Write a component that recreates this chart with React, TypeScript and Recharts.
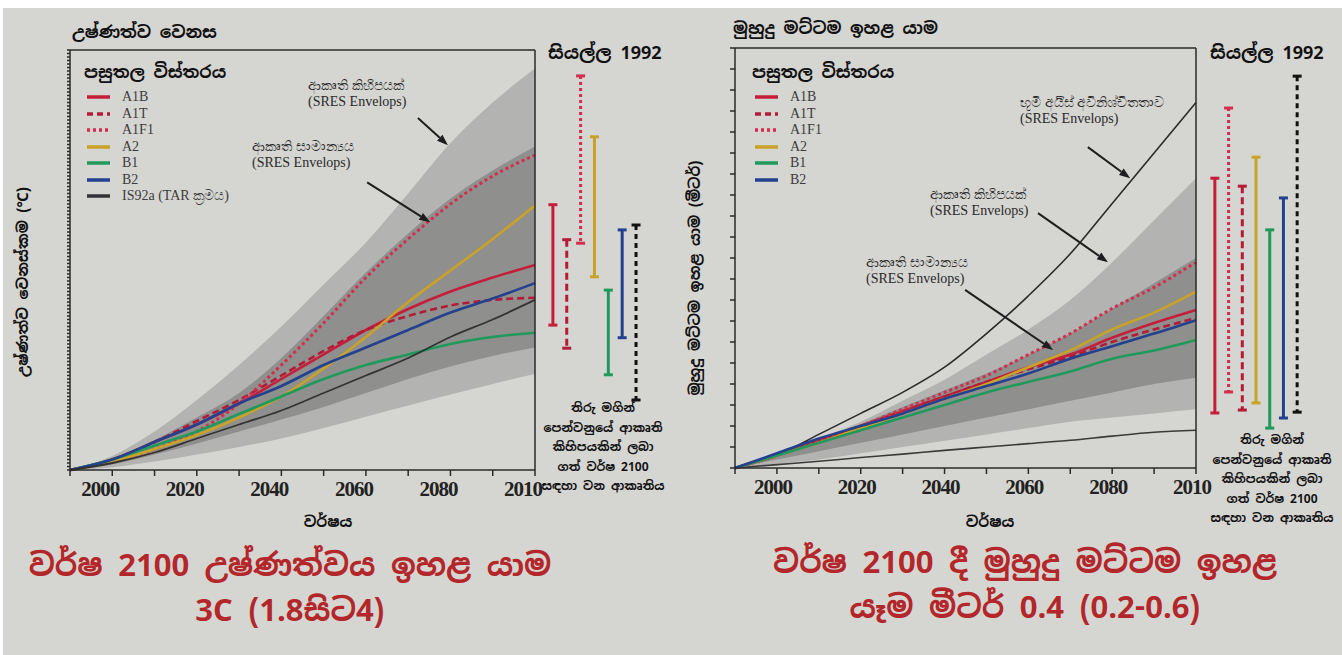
import React from "react";
import { ComposedChart, Area, Line, XAxis, YAxis, ReferenceLine, BarChart, Bar } from "recharts";

// shared x axis
const years = [1990, 2000, 2010, 2020, 2030, 2040, 2050, 2060, 2070, 2080, 2090, 2100];
const tickYears = [1990, 2000, 2010, 2020, 2030, 2040, 2050, 2060, 2070, 2080, 2090, 2100];
const labeledYears = [2000, 2020, 2040, 2060, 2080, 2100];
const yearLabels = ["2000", "2020", "2040", "2060", "2080", "2010"];

// temperature change (°C)
const tempOuterLo = [0, 0.04, 0.12, 0.22, 0.33, 0.45, 0.6, 0.76, 0.92, 1.08, 1.23, 1.37];
const tempOuterHi = [0, 0.2, 0.55, 1.0, 1.5, 2.05, 2.65, 3.25, 3.95, 4.67, 5.25, 5.74];
const tempInnerLo = [0, 0.08, 0.22, 0.38, 0.55, 0.72, 0.9, 1.1, 1.3, 1.48, 1.63, 1.75];
const tempInnerHi = [0, 0.17, 0.43, 0.75, 1.1, 1.6, 2.2, 2.82, 3.38, 3.88, 4.28, 4.62];
const tempA1B = [0, 0.15, 0.4, 0.65, 0.95, 1.3, 1.65, 2.0, 2.3, 2.55, 2.75, 2.93];
const tempA1T = [0, 0.15, 0.4, 0.7, 1.0, 1.35, 1.7, 2.0, 2.2, 2.35, 2.43, 2.46];
const tempA1F1 = [0, 0.12, 0.3, 0.55, 0.95, 1.5, 2.1, 2.75, 3.3, 3.8, 4.2, 4.5];
const tempA2 = [0, 0.12, 0.3, 0.5, 0.75, 1.05, 1.45, 1.9, 2.4, 2.85, 3.3, 3.78];
const tempB1 = [0, 0.15, 0.35, 0.55, 0.8, 1.05, 1.3, 1.5, 1.65, 1.8, 1.9, 1.96];
const tempB2 = [0, 0.15, 0.4, 0.65, 0.95, 1.2, 1.5, 1.75, 2.0, 2.25, 2.45, 2.67];
const tempIS92a = [0, 0.1, 0.25, 0.45, 0.65, 0.85, 1.1, 1.35, 1.6, 1.9, 2.15, 2.43];

const tempBarNames = ["A1B", "A1T", "A1F1", "A2", "B1", "B2", "IS92a"];
const tempBarLow = [2.07, 1.74, 3.24, 2.76, 1.36, 1.89, 1.0];
const tempBarHigh = [3.79, 3.29, 5.63, 4.76, 2.57, 3.43, 3.5];

// sea level rise (m)
const seaOuterLo = [0, 0.01, 0.02, 0.035, 0.05, 0.065, 0.08, 0.095, 0.11, 0.12, 0.13, 0.14];
const seaOuterHi = [0, 0.03, 0.07, 0.11, 0.16, 0.21, 0.27, 0.33, 0.4, 0.49, 0.59, 0.69];
const seaInnerLo = [0, 0.02, 0.04, 0.06, 0.08, 0.1, 0.12, 0.14, 0.16, 0.18, 0.2, 0.215];
const seaInnerHi = [0, 0.035, 0.07, 0.105, 0.145, 0.185, 0.225, 0.27, 0.32, 0.38, 0.44, 0.5];
const seaIceHigh = [0, 0.03, 0.08, 0.13, 0.18, 0.24, 0.32, 0.41, 0.51, 0.63, 0.75, 0.87];
const seaIceLow = [0, 0.008, 0.016, 0.025, 0.033, 0.042, 0.05, 0.058, 0.066, 0.076, 0.085, 0.09];
const seaA1B = [0, 0.03, 0.065, 0.1, 0.135, 0.17, 0.205, 0.24, 0.27, 0.31, 0.345, 0.376];
const seaA1T = [0, 0.03, 0.065, 0.1, 0.135, 0.17, 0.205, 0.235, 0.265, 0.3, 0.33, 0.357];
const seaA1F1 = [0, 0.03, 0.065, 0.1, 0.14, 0.18, 0.22, 0.27, 0.32, 0.38, 0.43, 0.49];
const seaA2 = [0, 0.03, 0.06, 0.095, 0.13, 0.165, 0.2, 0.24, 0.28, 0.33, 0.37, 0.42];
const seaB1 = [0, 0.03, 0.06, 0.09, 0.12, 0.15, 0.18, 0.205, 0.23, 0.26, 0.28, 0.305];
const seaB2 = [0, 0.035, 0.07, 0.1, 0.13, 0.165, 0.195, 0.225, 0.26, 0.29, 0.32, 0.352];

const seaBarNames = ["A1B", "A1F1", "A1T", "A2", "B1", "B2", "IS92a"];
const seaBarLow = [0.131, 0.181, 0.138, 0.155, 0.095, 0.119, 0.133];
const seaBarHigh = [0.69, 0.857, 0.671, 0.74, 0.567, 0.643, 0.933];

const STYLE: Record<string, { color: string; dash?: string; width: number }> = {
  A1B: { color: "#c41e3a", width: 2.6 },
  A1T: { color: "#b31b37", dash: "7 4", width: 2.6 },
  A1F1: { color: "#d42d4e", dash: "3 3", width: 3 },
  A2: { color: "#c9a227", width: 2.6 },
  B1: { color: "#1f9a5c", width: 2.6 },
  B2: { color: "#23418f", width: 2.6 },
  IS92a: { color: "#333333", width: 1.8 },
};

const tempRows = years.map((year, i) => ({
  year,
  outer: [tempOuterLo[i], tempOuterHi[i]],
  inner: [tempInnerLo[i], tempInnerHi[i]],
  A1B: tempA1B[i],
  A1T: tempA1T[i],
  A1F1: tempA1F1[i],
  A2: tempA2[i],
  B1: tempB1[i],
  B2: tempB2[i],
  IS92a: tempIS92a[i],
}));

const seaRows = years.map((year, i) => ({
  year,
  outer: [seaOuterLo[i], seaOuterHi[i]],
  inner: [seaInnerLo[i], seaInnerHi[i]],
  iceHigh: seaIceHigh[i],
  iceLow: seaIceLow[i],
  A1B: seaA1B[i],
  A1T: seaA1T[i],
  A1F1: seaA1F1[i],
  A2: seaA2[i],
  B1: seaB1[i],
  B2: seaB2[i],
}));

const tempBars = tempBarNames.map((name, i) => ({ name, range: [tempBarLow[i], tempBarHigh[i]] }));
const seaBars = seaBarNames.map((name, i) => ({ name, range: [seaBarLow[i], seaBarHigh[i]] }));

const steps = (max: number, step: number) => {
  const out: number[] = [];
  for (let i = 0; i <= Math.round(max / step); i++) out.push(+(i * step).toFixed(3));
  return out;
};

const SIN = "'Noto Sans Sinhala', 'Iskoola Pota', 'Noto Sans', sans-serif";
const SERIF = "'Liberation Serif', 'DejaVu Serif', serif";
const BG = "#d5d5d1";

const arrowShape = (p: any) => {
  const { x1, y1, x2, y2 } = p;
  const a = Math.atan2(y2 - y1, x2 - x1);
  const bx = x2 - 11 * Math.cos(a);
  const by = y2 - 11 * Math.sin(a);
  const s = Math.sin(a) * 4;
  const c = Math.cos(a) * 4;
  return (
    <g>
      <line x1={x1} y1={y1} x2={bx} y2={by} stroke="#1e1e1e" strokeWidth={2} />
      <polygon points={`${x2},${y2} ${bx - s},${by + c} ${bx + s},${by - c}`} fill="#1e1e1e" />
    </g>
  );
};

const RangeMark = (p: any) => {
  const { x, y, width, height, payload } = p;
  const s = STYLE[payload.name];
  const cx = x + width / 2;
  const col = payload.name === "IS92a" ? "#111" : s.color;
  const dash = payload.name === "IS92a" ? "5 4" : s.dash;
  return (
    <g>
      <line x1={cx} x2={cx} y1={y} y2={y + height} stroke={col} strokeWidth={3} strokeDasharray={dash} />
      <line x1={cx - 4.5} x2={cx + 4.5} y1={y} y2={y} stroke={col} strokeWidth={3} />
      <line x1={cx - 4.5} x2={cx + 4.5} y1={y + height} y2={y + height} stroke={col} strokeWidth={3} />
    </g>
  );
};

const yearTick = (dx: number) => (props: any) => {
  const { x, y, payload } = props;
  const idx = labeledYears.indexOf(payload.value);
  if (idx < 0) return <g />;
  return (
    <text x={x + dx} y={y + 18} textAnchor="middle" fontFamily={SERIF} fontSize={21} fontWeight="bold" fill="#222" letterSpacing={-1}>
      {yearLabels[idx]}
    </text>
  );
};

type PanelProps = {
  data: any[];
  left: number;
  width: number;
  height: number;
  margin: { top: number; right: number; bottom: number; left: number };
  yMax: number;
  leftTicks: number[];
  rightTicks: number[];
  leftTickSize: number;
  rightTickSize: number;
  series: string[];
  iceLines?: boolean;
  arrows: { from: [number, number]; to: [number, number] }[];
  labelDx: number;
};

function Panel(p: PanelProps) {
  return (
    <div style={{ position: "absolute", left: p.left, top: 0 }}>
      <ComposedChart width={p.width} height={p.height} data={p.data} margin={p.margin}>
        <XAxis
          dataKey="year"
          type="number"
          domain={[1990, 2100]}
          ticks={tickYears}
          interval={0}
          height={30}
          tickSize={6}
          stroke="#2a2a2a"
          strokeWidth={1.5}
          tick={yearTick(p.labelDx)}
        />
        <XAxis
          xAxisId="top"
          orientation="top"
          type="number"
          domain={[1990, 2100]}
          ticks={tickYears}
          interval={0}
          height={8}
          tickSize={5}
          stroke="#2a2a2a"
          strokeWidth={1.5}
          tickFormatter={() => ""}
        />
        <YAxis
          type="number"
          domain={[0, p.yMax]}
          ticks={p.leftTicks}
          interval={0}
          width={8}
          tickSize={p.leftTickSize}
          stroke="#2a2a2a"
          strokeWidth={1.5}
          tickFormatter={() => ""}
        />
        <YAxis
          yAxisId="r"
          orientation="right"
          type="number"
          domain={[0, p.yMax]}
          ticks={p.rightTicks}
          interval={0}
          width={8}
          tickSize={p.rightTickSize}
          stroke="#2a2a2a"
          strokeWidth={1.5}
          tickFormatter={() => ""}
        />
        <Area dataKey="outer" type="monotone" stroke="none" fill="#b3b3b1" fillOpacity={1} isAnimationActive={false} />
        <Area dataKey="inner" type="monotone" stroke="none" fill="#8f8f8d" fillOpacity={1} isAnimationActive={false} />
        {p.iceLines && (
          <Line dataKey="iceHigh" type="monotone" stroke="#2b2b2b" strokeWidth={1.6} dot={false} isAnimationActive={false} />
        )}
        {p.iceLines && (
          <Line dataKey="iceLow" type="monotone" stroke="#3a3a3a" strokeWidth={1.6} dot={false} isAnimationActive={false} />
        )}
        {p.series.map((k) => (
          <Line
            key={k}
            dataKey={k}
            type="monotone"
            stroke={STYLE[k].color}
            strokeWidth={STYLE[k].width}
            strokeDasharray={STYLE[k].dash}
            dot={false}
            isAnimationActive={false}
          />
        ))}
        {p.arrows.map((a, i) => (
          <ReferenceLine
            key={i}
            segment={[
              { x: a.from[0], y: a.from[1] },
              { x: a.to[0], y: a.to[1] },
            ]}
            shape={arrowShape}
          />
        ))}
      </ComposedChart>
    </div>
  );
}

function RangeBars({ data, left, top, width, height, yMax }: any) {
  return (
    <div style={{ position: "absolute", left, top: 0 }}>
      <BarChart width={width} height={height} data={data} margin={{ top, right: 0, bottom: 0, left: 0 }}>
        <XAxis dataKey="name" hide />
        <YAxis type="number" domain={[0, yMax]} hide />
        <Bar dataKey="range" shape={RangeMark} isAnimationActive={false} />
      </BarChart>
    </div>
  );
}

const T = (props: { x: number; y: number; children: any; style?: React.CSSProperties; center?: boolean }) => (
  <div
    style={{
      position: "absolute",
      left: props.x,
      top: props.y,
      transform: props.center ? "translate(-50%, -50%)" : "translateY(-50%)",
      whiteSpace: "nowrap",
      ...props.style,
    }}
  >
    {props.children}
  </div>
);

function Legend({ x, y, names }: { x: number; y: number; names: string[] }) {
  const labels: Record<string, string> = { IS92a: "IS92a (TAR ක්‍රමය)" };
  return (
    <>
      <T x={x} y={y} style={{ fontFamily: SIN, fontSize: 17, fontWeight: 700, color: "#111" }}>
        පසුතල විස්තරය
      </T>
      {names.map((n, i) => (
        <div key={n} style={{ position: "absolute", left: x + 2, top: y + 25 + i * 16.5 - 8, height: 16, display: "flex", alignItems: "center" }}>
          <svg width={26} height={10}>
            <line x1={1} x2={24} y1={5} y2={5} stroke={STYLE[n].color} strokeWidth={3.5} strokeDasharray={STYLE[n].dash === "7 4" ? "6 4" : STYLE[n].dash} />
          </svg>
          <span style={{ marginLeft: 10, fontFamily: SERIF, fontSize: 14, color: "#3c3c3c", whiteSpace: "nowrap" }}>{labels[n] || n}</span>
        </div>
      ))}
    </>
  );
}

const annot: React.CSSProperties = { fontFamily: SERIF, fontSize: 14, color: "#2a2a2a", lineHeight: "16px", whiteSpace: "nowrap" };
const note: React.CSSProperties = {
  fontFamily: SIN,
  fontSize: 12,
  fontWeight: 700,
  color: "#111",
  lineHeight: "19.5px",
  textAlign: "center",
  transform: "translateX(-50%)",
  whiteSpace: "nowrap",
};
const big: React.CSSProperties = { fontFamily: SIN, fontSize: 31, fontWeight: 700, color: "#b3262a" };

export default function App() {
  return (
    <div style={{ position: "fixed", left: 0, top: 0, width: 1342, height: 655, background: "#fff", overflow: "hidden" }}>
      <div style={{ position: "absolute", left: 3, top: 8, width: 1339, height: 647, background: BG }} />

      {/* temperature panel */}
      <Panel
        data={tempRows}
        left={0}
        width={565}
        height={500}
        margin={{ top: 42, right: 22, bottom: 0, left: 62 }}
        yMax={6}
        leftTicks={steps(6, 0.05)}
        rightTicks={steps(6, 0.25)}
        leftTickSize={3}
        rightTickSize={4}
        series={["A1B", "A1T", "A1F1", "A2", "B1", "B2", "IS92a"]}
        arrows={[
          { from: [2072.3, 5.03], to: [2079.4, 4.64] },
          { from: [2060.3, 4.11], to: [2075.2, 3.54] },
        ]}
        labelDx={-12}
      />
      <RangeBars data={tempBars} left={546} top={50} width={97} height={470} yMax={6} />

      <T x={72} y={32} style={{ fontFamily: SIN, fontSize: 17, fontWeight: 700, color: "#111" }}>උෂ්ණත්ව වෙනස</T>
      <T x={548} y={52} style={{ fontFamily: SIN, fontSize: 18, fontWeight: 700, color: "#111" }}>සියල්ල 1992</T>
      <Legend x={84} y={72} names={["A1B", "A1T", "A1F1", "A2", "B1", "B2", "IS92a"]} />
      <div style={{ position: "absolute", left: 308, top: 78, ...annot }}>ආකෘති කිහිපයක්<br />(SRES Envelops)</div>
      <div style={{ position: "absolute", left: 252, top: 139, ...annot }}>ආකෘති සාමාන්‍යය<br />(SRES Envelops)</div>
      <div style={{ position: "absolute", left: 603, top: 399, ...note }}>
        තිරු මගින්<br />පෙන්වනුයේ ආකෘති<br />කිහිපයකින් ලබා<br />ගත් වර්ෂ 2100<br />සඳහා වන ආකෘතිය
      </div>
      <T x={22} y={282} center style={{ fontFamily: SIN, fontSize: 15, fontWeight: 700, color: "#111", transform: "translate(-50%, -50%) rotate(-90deg)" }}>
        උෂ්ණත්ව වෙනස්කම (℃)
      </T>
      <T x={328} y={521} center style={{ fontFamily: SIN, fontSize: 15, fontWeight: 700, color: "#111" }}>වර්ෂය</T>
      <T x={290} y={565} center style={big}>වර්ෂ 2100 උෂ්ණත්වය ඉහළ යාම</T>
      <T x={290} y={610} center style={big}>3C (1.8සිට4)</T>

      {/* sea level panel */}
      <Panel
        data={seaRows}
        left={720}
        width={506}
        height={498}
        margin={{ top: 40, right: 22, bottom: 0, left: 7 }}
        yMax={1}
        leftTicks={steps(1, 0.05)}
        rightTicks={steps(1, 0.05)}
        leftTickSize={5}
        rightTickSize={5}
        series={["A1B", "A1T", "A1F1", "A2", "B1", "B2"]}
        iceLines
        arrows={[
          { from: [2074.2, 0.764], to: [2084.3, 0.69] },
          { from: [2062.3, 0.607], to: [2079, 0.49] },
          { from: [2044.9, 0.424], to: [2065.9, 0.281] },
        ]}
        labelDx={-4}
      />
      <RangeBars data={seaBars} left={1208} top={48} width={96} height={468} yMax={1} />

      <T x={733} y={28} style={{ fontFamily: SIN, fontSize: 17, fontWeight: 700, color: "#111" }}>මුහුදු මට්ටම ඉහළ යාම</T>
      <T x={1210} y={52} style={{ fontFamily: SIN, fontSize: 18, fontWeight: 700, color: "#111" }}>සියල්ල 1992</T>
      <Legend x={752} y={72} names={["A1B", "A1T", "A1F1", "A2", "B1", "B2"]} />
      <div style={{ position: "absolute", left: 1020, top: 95, ...annot }}>භූමි අයිස් අවිනිශ්චිතතාව<br />(SRES Envelops)</div>
      <div style={{ position: "absolute", left: 930, top: 187, ...annot }}>ආකෘති කිහිපයක්<br />(SRES Envelops)</div>
      <div style={{ position: "absolute", left: 866, top: 255, ...annot }}>ආකෘති සාමාන්‍යය<br />(SRES Envelops)</div>
      <div style={{ position: "absolute", left: 1272, top: 431, ...note }}>
        තිරු මගින්<br />පෙන්වනුයේ ආකෘති<br />කිහිපයකින් ලබා<br />ගත් වර්ෂ 2100<br />සඳහා වන ආකෘතිය
      </div>
      <T x={694} y={278} center style={{ fontFamily: SIN, fontSize: 15, fontWeight: 700, color: "#111", transform: "translate(-50%, -50%) rotate(-90deg)" }}>
        මුහුදු මට්ටම ඉහළ යාම (මීටර්)
      </T>
      <T x={990} y={521} center style={{ fontFamily: SIN, fontSize: 15, fontWeight: 700, color: "#111" }}>වර්ෂය</T>
      <T x={1025} y={562} center style={big}>වර්ෂ 2100 දී මුහුදු මට්ටම ඉහළ</T>
      <T x={1025} y={607} center style={big}>යෑම මීටර් 0.4 (0.2-0.6)</T>
    </div>
  );
}
